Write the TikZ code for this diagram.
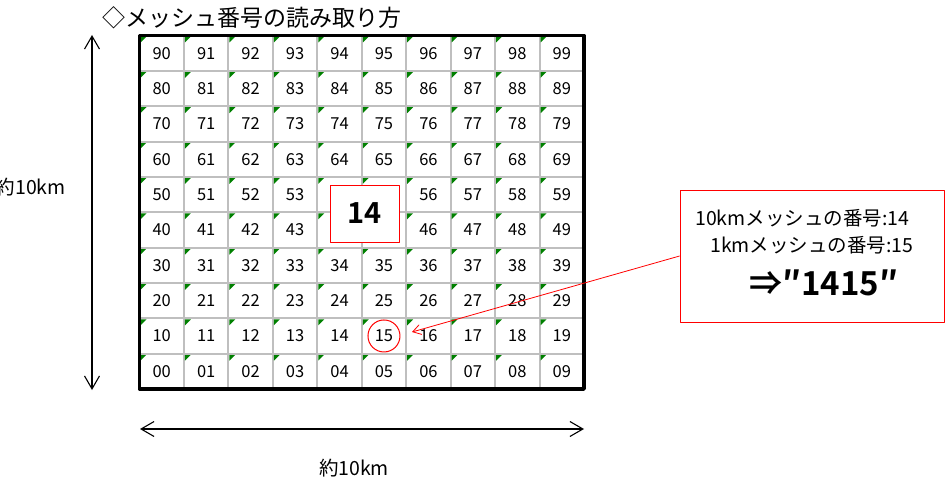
\documentclass[tikz,border=0pt]{standalone}
\usepackage{fontspec}
\setmainfont{Noto Sans CJK JP}[BoldFont={Noto Sans CJK JP Bold}]
\usetikzlibrary{arrows.meta}
\begin{document}
\begin{tikzpicture}[x=1pt,y=-1pt,line join=round,
  cell/.style={minimum width=44.45pt,minimum height=35.35pt,inner sep=0pt,outer sep=0pt,font=\fontsize{16.5}{16.5}\selectfont},
  cellline/.style={draw=black!25,line width=2pt},
  corner/.style={fill=green!50!black},
  dim/.style={{Straight Barb[length=13pt,width=15pt]}-{Straight Barb[length=13pt,width=15pt]},line width=1.1pt},
  txt/.style={inner sep=0pt,font=\fontsize{19.5}{19.5}\selectfont}]
\useasboundingbox (0,0) rectangle (945,484);
\node[anchor=west,inner sep=0pt,font=\fontsize{23}{23}\selectfont] (title) at (102,18) {◇メッシュ番号の読み取り方};
% 1km cells
\foreach \r in {0,...,9}
  \foreach \c in {0,...,9}{
    \pgfmathsetmacro\cx{139.5+(\c+0.5)*44.45}
    \pgfmathsetmacro\cy{389-(\r+0.5)*35.35}
    \pgfmathtruncatemacro\hide{((\r==4)||(\r==5))&&((\c==4)||(\c==5))}
    \node[cell] (c\r\c) at (\cx,\cy) {\ifnum\hide=0 \r\c\fi};
    \draw[cellline] (c\r\c.north west) rectangle (c\r\c.south east);
    \fill[corner] ([shift={(1,1)}]c\r\c.north west) -- ++(6,0) -- ++(-6,6) -- cycle;
  }
\draw[line width=3.5pt] (c90.north west) rectangle (c09.south east);
% 10km mesh
\node[draw=red,fill=white,line width=1pt,minimum width=69pt,minimum height=57pt,font=\bfseries\fontsize{29}{29}\selectfont] (big) at (364.5,213.5) {14};
\draw[red,line width=1pt] (c15) circle (16pt);
% answer
\node[draw=red,line width=0.8pt,minimum width=264pt,minimum height=132pt] (ans) at (812,256) {};
\node[txt,anchor=west] (l1) at (695,218) {10kmメッシュの番号:14};
\node[txt,anchor=west] (l2) at (710,245) {1kmメッシュの番号:15};
\node[txt,anchor=west,font=\bfseries\fontsize{33}{33}\selectfont] (l3) at (749,283) {⇒″1415″};
\coordinate (hit) at (412,332);
\draw[red,line width=0.8pt,-{Straight Barb[length=8pt,width=10pt]}] (ans.west) -- (hit);
% scale
\coordinate (vt) at (92,35);
\coordinate (vb) at (92,390);
\draw[dim] (vt) -- (vb);
\node[txt,anchor=east] (vlab) at (66,187) {約10km};
\coordinate (hl) at (140,429);
\coordinate (hr) at (584,429);
\draw[dim] (hl) -- (hr);
\node[txt] (hlab) at (354,468) {約10km};
\end{tikzpicture}
\end{document}
